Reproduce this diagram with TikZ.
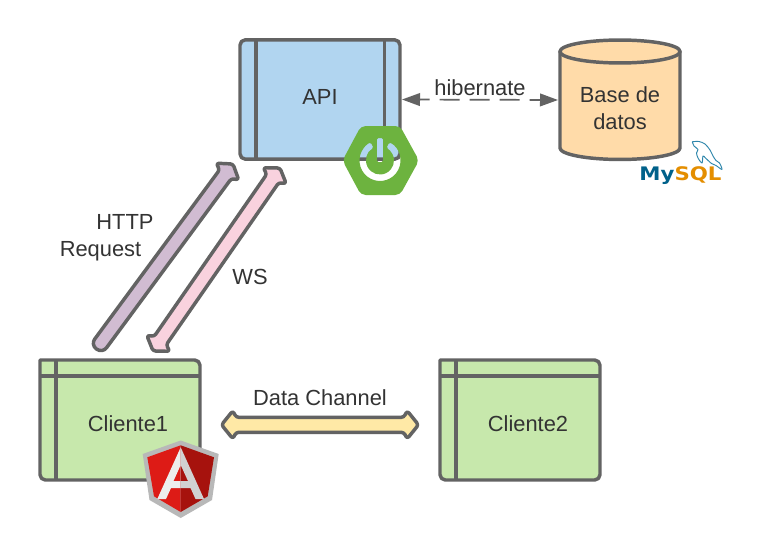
\documentclass[tikz,border=0pt]{standalone}
\usepackage{fontspec}
\setmainfont{Liberation Sans}
\usetikzlibrary{calc,arrows.meta}
\definecolor{stroke}{HTML}{636363}
\definecolor{txtc}{HTML}{333333}
\definecolor{apiblue}{HTML}{B1D5F0}
\definecolor{dbor}{HTML}{FFDBA9}
\definecolor{clgreen}{HTML}{C7E8AC}
\definecolor{httpc}{HTML}{D1BCD2}
\definecolor{wsc}{HTML}{F9D2DE}
\definecolor{dcc}{HTML}{FFE9A6}
\definecolor{spring}{HTML}{6DB33F}
\definecolor{angl}{HTML}{DD1B16}
\definecolor{angr}{HTML}{A6120D}
\definecolor{myblue}{HTML}{00618A}
\definecolor{myor}{HTML}{E48E00}
\definecolor{dolph}{HTML}{2E86AB}
\tikzset{
  lab/.style={font=\fontsize{16.4}{19.5}\selectfont,text=txtc,inner sep=0pt,anchor=base},
  frame/.style={minimum width=120pt,inner sep=0pt,outer sep=0pt},
  line/.style={draw=stroke,line width=2.6pt,line join=round},
  hib/.style={draw=stroke,line width=1.3pt,dash pattern=on 15pt off 7.5pt,dash phase=7.5pt,
    {Triangle[length=13.5pt,width=9.5pt,fill=stroke]}-{Triangle[length=13.5pt,width=9.5pt,fill=stroke]}}
}
% double-headed block arrow between two named coordinates
% #1 colour, #2 #3 end points, #4 head length, #5 head half width, #6 shaft half width, #7 shoulder run
\newcommand{\dblarrow}[7]{%
  \coordinate (pa) at ($(#2)!#4!(#3)$);
  \coordinate (qa) at ($(#3)!#4!(#2)$);
  \coordinate (pb) at ($(#2)!#7!(#3)$);
  \coordinate (qb) at ($(#3)!#7!(#2)$);
  \draw[line,fill=#1,rounded corners=2pt]
    (#2) -- ($(pa)!#5!90:(#3)$) -- ($(pb)!#6!90:(#3)$)
    -- ($(qb)!#6!-90:(#2)$) -- ($(qa)!#5!-90:(#2)$) -- (#3)
    -- ($(qa)!#5!90:(#2)$) -- ($(qb)!#6!90:(#2)$)
    -- ($(pb)!#6!-90:(#3)$) -- ($(pa)!#5!-90:(#3)$) -- cycle;
}
% one-headed block arrow with a round tail
\newcommand{\tailarrow}[7]{%
  \coordinate (qa) at ($(#3)!#4!(#2)$);
  \coordinate (qb) at ($(#3)!#7!(#2)$);
  \draw[line,fill=#1,rounded corners=2pt]
    (#3) -- ($(qa)!#5!90:(#2)$) -- ($(qb)!#6!90:(#2)$)
    [rounded corners=5.2pt] -- ($(#2)!#6!-90:(#3)$) -- ($(#2)!#6!90:(#3)$) [rounded corners=2pt]
    -- ($(qb)!#6!-90:(#2)$) -- ($(qa)!#5!-90:(#2)$) -- cycle;
}
\begin{document}
\begin{tikzpicture}[x=0.75pt,y=-0.75pt]
\useasboundingbox (0,0) rectangle (764,560);
\fill[white] (0,0) rectangle (764,560);

% frames
\node[frame,minimum height=89.5pt] (api) at (320,99.5) {};
\node[frame,minimum height=90pt] (c1) at (120,420) {};
\node[frame,minimum height=90pt] (c2) at (520,420) {};
\node[frame,minimum width=90pt,minimum height=90pt] (db) at (620,100) {};

% API box
\draw[line,fill=apiblue,rounded corners=4pt] (api.north west) rectangle (api.south east);
\draw[line] ([xshift=12pt]api.north west) -- ([xshift=12pt]api.south west);
\draw[line] ([xshift=-11.5pt]api.north east) -- ([xshift=-11.5pt]api.south east);
\node[lab] (apit) at (320,104) {API};

% clients
\foreach \c/\t/\tx in {c1/Cliente1/128,c2/Cliente2/528}{
  \draw[line,fill=clgreen] (\c.north west) -- (\c.north) [rounded corners=4pt] -- (\c.north east)
     -- (\c.south east) -- (\c.south west) [sharp corners] -- (\c.north west) -- cycle;
  \draw[line] ([xshift=12pt]\c.north west) -- ([xshift=12pt]\c.south west);
  \draw[line] ([yshift=-12pt]\c.north west) -- ([yshift=-12pt]\c.north east);
  \node[lab] (\c t) at (\tx,431) {\t};
}

% database
\draw[line,fill=dbor] (560,51.5) -- (560,148) arc[start angle=180,end angle=360,x radius=45pt,y radius=8.6pt]
   -- (680,51.5) -- cycle;
\draw[line,fill=dbor] (620,51.5) ellipse[x radius=45pt,y radius=8.6pt];
\node[lab] (dbt) at (620,103) {Base de};
\node[lab] (dbt2) at (620,129) {datos};

% hibernate
\draw[hib] ([xshift=1.5pt]api.east) -- ([xshift=-1.5pt]db.west);
\node[lab] (hibt) at (480,95) {hibernate};

% block arrows
\coordinate (httpa) at (96.5,349);
\coordinate (httpb) at (233,164);
\tailarrow{httpc}{httpa}{httpb}{7pt}{10.5pt}{5.5pt}{9.5pt}
\node[lab] (httpt) at (125,229.5) {HTTP};
\node[lab] (reqt) at (100.5,256) {Request};

\coordinate (wsa) at (153,351);
\coordinate (wsb) at (280,168);
\dblarrow{wsc}{wsa}{wsb}{7pt}{10.5pt}{5.5pt}{9.5pt}
\node[lab] (wst) at (250,284) {WS};

\coordinate (dca) at (221.5,424.8);
\coordinate (dcb) at (418.5,424.8);
\dblarrow{dcc}{dca}{dcb}{8.5pt}{10.5pt}{5.6pt}{11pt}
\node[lab] (dct) at (320,405) {Data Channel};

% spring logo: the icon is a hole in the hexagon
\begin{scope}[shift={(380,160.5)},y=0.75pt]
\fill[spring,even odd rule,rounded corners=3.5pt]
   (-37.5,0) -- (-19,34.5) -- (20,34.5) -- (39,0) -- (20,-34.5) -- (-19,-34.5) -- cycle
   [rounded corners=1.2pt] (63:20.5) arc[start angle=63,end angle=-243,radius=20.5]
   -- (-243:14) arc[start angle=-243,end angle=63,radius=14] -- cycle
   (-3.2,22.5) -- (3.2,22.5) -- (3.2,-1.5) -- (-3.2,-1.5) -- cycle;
\end{scope}

% angular shield
\fill[black!28] (180.7,440.5) -- (218.7,454) -- (212,500) -- (180.7,518) -- (149.5,500) -- (142.7,454) -- cycle;
\fill[angl] (180.7,445.3) -- (147.3,457.3) -- (154,496.3) -- (180.7,512) -- cycle;
\fill[angr] (180.7,445.3) -- (214,457.3) -- (207.7,496.3) -- (180.7,512) -- cycle;
\fill[black!7,even odd rule] (180.7,447.3) -- (157.3,499) -- (166,499) -- (171,488) -- (180.7,488) -- cycle
   (180.7,465) -- (180.7,481) -- (173.5,481) -- cycle;
\fill[black!18,even odd rule] (180.7,447.3) -- (204,499) -- (195.5,499) -- (190.5,488) -- (180.7,488) -- cycle
   (180.7,465) -- (180.7,481) -- (188,481) -- cycle;

% mysql logo
\draw[dolph,line width=0.7pt,line join=round] plot[smooth] coordinates {
  (692.3,141.7) (699,141.5) (705,144) (710,150) (713,156) (716,160.5) (719.5,163) (722,169.5) (716,165.5) (711.5,163.5) (705.5,158)
  (703,156) (702,163) (698,158) (696.5,153) (698,149.5) (694,146) (692.3,141.7)};
\node[inner sep=0pt,anchor=base,xscale=1.14] (mysql) at (680.5,180)
  {\fontspec{DejaVu Sans}\fontsize{14}{16}\selectfont\bfseries\textcolor{myblue}{My}\textcolor{myor}{SQL}};
\end{tikzpicture}
\end{document}
